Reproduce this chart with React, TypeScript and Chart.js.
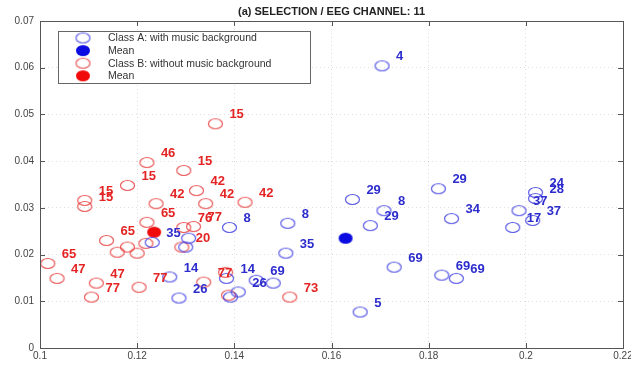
import React, { useEffect, useRef } from "react";
import { Chart, registerables } from "chart.js";

Chart.register(...registerables);

const TITLE = "(a) SELECTION / EEG CHANNEL: 11";
const X_TICKS = [0.1, 0.12, 0.14, 0.16, 0.18, 0.2, 0.22];
const Y_TICKS = [0, 0.01, 0.02, 0.03, 0.04, 0.05, 0.06, 0.07];
const LEGEND_LABELS = [
  "Class A: with music background",
  "Mean",
  "Class B: without music background",
  "Mean",
];

// Class A: with music background (blue)
const classAX = [
  0.1704, 0.1643, 0.1708, 0.168, 0.182, 0.1847, 0.202, 0.202, 0.1986, 0.2014,
  0.1973, 0.1729, 0.1827, 0.1857, 0.1659, 0.151, 0.1506, 0.139, 0.1384, 0.1445,
  0.1408, 0.1392, 0.148, 0.1286, 0.1267, 0.1231, 0.13, 0.1306,
];
const classAY = [
  0.0604, 0.0318, 0.0294, 0.0262, 0.0341, 0.0277, 0.0333, 0.032, 0.0294, 0.0273,
  0.0258, 0.0173, 0.0156, 0.0149, 0.0077, 0.0267, 0.0203, 0.0258, 0.0149, 0.0145,
  0.012, 0.0109, 0.0139, 0.0107, 0.0152, 0.0226, 0.0216, 0.0235,
];
const classALabels = [
  "4", "29", "8", "29", "29", "34", "24", "28", "37", "37",
  "17", "69", "69", "69", "5", "8", "35", "8", "14", "69",
  "26", "", "", "26", "14", "35", "", "",
];
const meanAX = [0.1629];
const meanAY = [0.0235];

// Class B: without music background (red)
const classBX = [
  0.1361, 0.122, 0.1296, 0.118, 0.1092, 0.1092, 0.1322, 0.1341, 0.1422, 0.1239,
  0.122, 0.1137, 0.1016, 0.1035, 0.1116, 0.1106, 0.1204, 0.1159, 0.118, 0.12,
  0.1218, 0.1296, 0.1316, 0.1292, 0.1337, 0.1388, 0.1514, 0.1382,
];
const classBY = [
  0.048, 0.0397, 0.038, 0.0348, 0.0316, 0.0303, 0.0337, 0.0309, 0.0312, 0.0309,
  0.0269, 0.023, 0.0181, 0.0149, 0.0139, 0.0109, 0.013, 0.0205, 0.0216, 0.0203,
  0.0224, 0.0258, 0.026, 0.0216, 0.0141, 0.0113, 0.0109, 0.0162,
];
const classBLabels = [
  "15", "46", "15", "15", "15", "15", "42", "42", "42", "42",
  "65", "65", "65", "47", "47", "77", "77", "", "", "",
  "", "76", "77", "20", "77", "", "73", "",
];
const meanBX = [0.1235];
const meanBY = [0.0248];

const BLUE_LINE = "rgba(60,60,225,0.85)";
const BLUE_TEXT = "rgb(45,45,205)";
const BLUE_FILL = "rgb(10,10,225)";
const RED_LINE = "rgba(230,60,60,0.85)";
const RED_TEXT = "rgb(228,35,35)";
const RED_FILL = "rgb(240,10,10)";
const FONT = "'Liberation Sans', Arial, sans-serif";

function ellipseMarker(color: string, filled: boolean, rx: number, ry: number, lw: number) {
  const c = document.createElement("canvas");
  c.width = Math.ceil(rx * 2 + lw * 2 + 2);
  c.height = Math.ceil(ry * 2 + lw * 2 + 2);
  const ctx = c.getContext("2d")!;
  ctx.beginPath();
  ctx.ellipse(c.width / 2, c.height / 2, rx, ry, 0, 0, Math.PI * 2);
  if (filled) {
    ctx.fillStyle = color;
    ctx.fill();
  } else {
    ctx.strokeStyle = color;
    ctx.lineWidth = lw;
    ctx.stroke();
  }
  return c;
}

function fmt(v: number) {
  return v === 0 ? "0" : String(+v.toFixed(2));
}

export default function App() {
  const ref = useRef<HTMLCanvasElement | null>(null);

  useEffect(() => {
    document.body.style.margin = "0";
    const canvas = ref.current!;
    const openA = ellipseMarker(BLUE_LINE, false, 7, 5, 1.2);
    const fillA = ellipseMarker(BLUE_FILL, true, 7, 5.5, 1);
    const openB = ellipseMarker(RED_LINE, false, 7, 5, 1.2);
    const fillB = ellipseMarker(RED_FILL, true, 7, 5.5, 1);

    const pts = (xs: number[], ys: number[]) => xs.map((x, i) => ({ x, y: ys[i] }));

    const decor = {
      id: "decor",
      afterDatasetsDraw(chart: any) {
        const ctx = chart.ctx;
        const xs = chart.scales.x;
        const ys = chart.scales.y;
        const { left, right, top, bottom } = chart.chartArea;
        ctx.save();
        // point labels
        ctx.font = `bold 13px ${FONT}`;
        ctx.textAlign = "left";
        ctx.textBaseline = "middle";
        const drawLabels = (xv: number[], yv: number[], lab: string[], col: string) => {
          ctx.fillStyle = col;
          xv.forEach((x, i) => {
            if (!lab[i]) return;
            const px = xs.getPixelForValue(x);
            const py = ys.getPixelForValue(yv[i]);
            ctx.fillText(lab[i], px + 14, py - 9);
          });
        };
        drawLabels(classAX, classAY, classALabels, BLUE_TEXT);
        drawLabels(classBX, classBY, classBLabels, RED_TEXT);

        // box
        ctx.strokeStyle = "#555";
        ctx.lineWidth = 1;
        ctx.strokeRect(Math.round(left) + 0.5, Math.round(top) + 0.5, Math.round(right - left), Math.round(bottom - top));
        // inward ticks
        ctx.beginPath();
        xs.ticks.forEach((t: any) => {
          const px = Math.round(xs.getPixelForValue(t.value)) + 0.5;
          ctx.moveTo(px, bottom);
          ctx.lineTo(px, bottom - 5);
          ctx.moveTo(px, top);
          ctx.lineTo(px, top + 5);
        });
        ys.ticks.forEach((t: any) => {
          const py = Math.round(ys.getPixelForValue(t.value)) + 0.5;
          ctx.moveTo(left, py);
          ctx.lineTo(left + 5, py);
          ctx.moveTo(right, py);
          ctx.lineTo(right - 5, py);
        });
        ctx.stroke();

        // x tick labels
        ctx.fillStyle = "#444";
        ctx.font = `10px ${FONT}`;
        ctx.textAlign = "center";
        ctx.textBaseline = "top";
        xs.ticks.forEach((t: any) => {
          ctx.fillText(fmt(t.value), xs.getPixelForValue(t.value), bottom + 3);
        });

        // title
        ctx.fillStyle = "#222";
        ctx.font = `bold 11px ${FONT}`;
        ctx.textBaseline = "middle";
        ctx.fillText(TITLE, (left + right) / 2, 12);

        // legend
        const bx = left + 18;
        const by = top + 10;
        const bw = 252;
        const bh = 52;
        ctx.fillStyle = "#fff";
        ctx.fillRect(bx, by, bw, bh);
        ctx.strokeStyle = "#666";
        ctx.strokeRect(bx + 0.5, by + 0.5, bw, bh);
        const markers = [openA, fillA, openB, fillB];
        ctx.font = `10.5px ${FONT}`;
        ctx.textAlign = "left";
        ctx.fillStyle = "#333";
        LEGEND_LABELS.forEach((l, i) => {
          const cy = by + 7 + i * 12.6;
          const m = markers[i];
          ctx.drawImage(m, bx + 25 - m.width / 2, cy - m.height / 2);
          ctx.fillText(l, bx + 50, cy + 0.5);
        });
        ctx.restore();
      },
    };

    const chart = new Chart(canvas, {
      type: "scatter",
      data: {
        datasets: [
          { label: LEGEND_LABELS[0], data: pts(classAX, classAY), pointStyle: openA as any, pointRadius: 7 },
          { label: LEGEND_LABELS[2], data: pts(classBX, classBY), pointStyle: openB as any, pointRadius: 7 },
          { label: LEGEND_LABELS[1], data: pts(meanAX, meanAY), pointStyle: fillA as any, pointRadius: 7 },
          { label: LEGEND_LABELS[3], data: pts(meanBX, meanBY), pointStyle: fillB as any, pointRadius: 7 },
        ],
      },
      options: {
        responsive: false,
        animation: false,
        events: [],
        layout: { padding: { top: 21, right: 4, left: 0, bottom: 0 } },
        plugins: {
          legend: { display: false },
          title: { display: false },
          tooltip: { enabled: false },
        },
        scales: {
          x: {
            type: "linear",
            min: 0.1,
            max: 0.22,
            afterBuildTicks: (s: any) => {
              s.ticks = X_TICKS.map((v) => ({ value: v }));
            },
            afterFit: (s: any) => {
              s.height = 20;
            },
            ticks: { display: false },
            grid: { color: "rgba(0,0,0,0.13)", drawTicks: false },
            border: { display: false, dash: [1, 3] },
          },
          y: {
            type: "linear",
            min: 0,
            max: 0.07,
            afterBuildTicks: (s: any) => {
              s.ticks = Y_TICKS.map((v) => ({ value: v }));
            },
            afterFit: (s: any) => {
              s.width = 40;
            },
            ticks: {
              callback: (v: any) => fmt(Number(v)),
              color: "#444",
              font: { size: 10, family: FONT },
              padding: 6,
            },
            grid: { color: "rgba(0,0,0,0.13)", drawTicks: false },
            border: { display: false, dash: [1, 3] },
          },
        },
      },
      plugins: [decor],
    });
    return () => chart.destroy();
  }, []);

  return <canvas ref={ref} width={631} height={368} style={{ display: "block" }} />;
}
